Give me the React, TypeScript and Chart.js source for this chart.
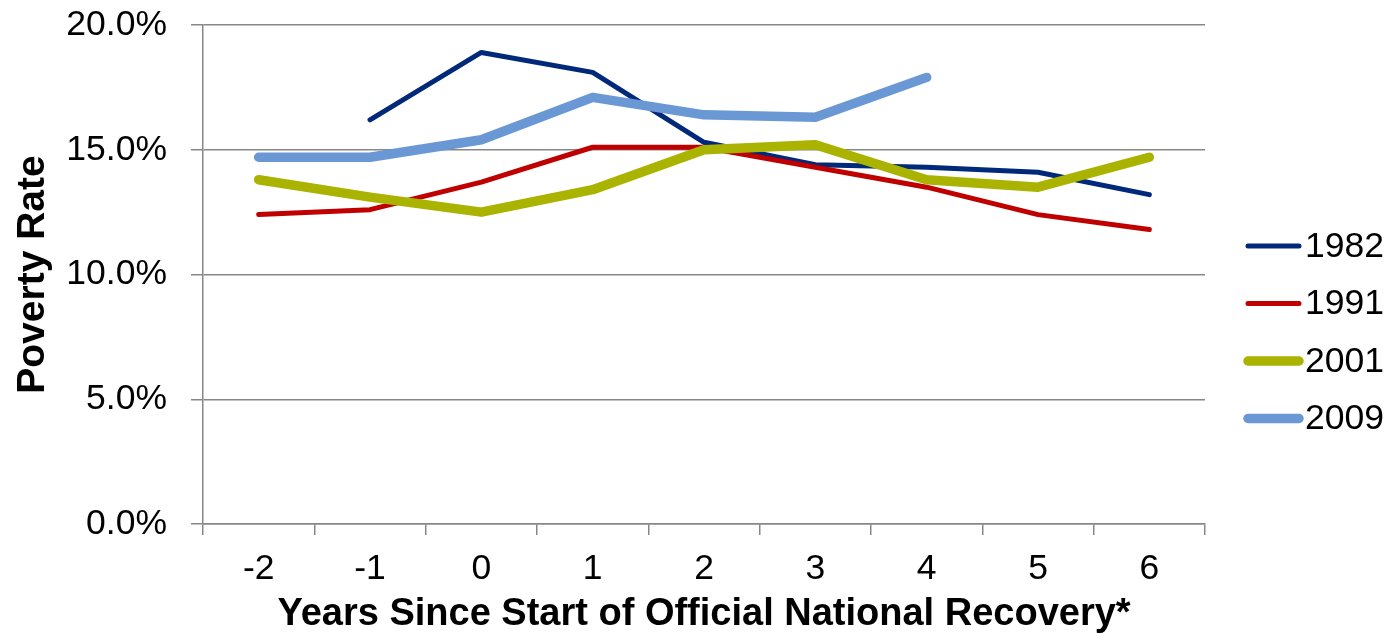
import React, { useEffect, useRef } from "react";
import { Chart, registerables } from "chart.js";

Chart.register(...registerables);

const categories = ["-2", "-1", "0", "1", "2", "3", "4", "5", "6"];
const seriesNames = ["1982", "1991", "2001", "2009"];
const values1982 = [null, 16.2, 18.9, 18.1, 15.3, 14.4, 14.3, 14.1, 13.2];
const values1991 = [12.4, 12.6, 13.7, 15.1, 15.1, 14.3, 13.5, 12.4, 11.8];
const values2001 = [13.8, 13.1, 12.5, 13.4, 15.0, 15.2, 13.8, 13.5, 14.7];
const values2009 = [14.7, 14.7, 15.4, 17.1, 16.4, 16.3, 17.9, null, null];
const yTicks = [0, 5, 10, 15, 20];

const colors = ["#00297A", "#C00000", "#AAB400", "#6A98D4"];
const widths = [5, 5, 9.5, 9.5];
const FONT = '"Liberation Sans", Arial, sans-serif';

const legendPlugin = {
  id: "customLegend",
  afterDraw(chart: any) {
    const { ctx, chartArea } = chart;
    ctx.save();
    chart.data.datasets.forEach((ds: any, i: number) => {
      const y = chartArea.top + 221 + i * 57.5;
      const x1 = chartArea.right + 43;
      const x2 = chartArea.right + 94;
      ctx.beginPath();
      ctx.strokeStyle = ds.borderColor;
      ctx.lineWidth = ds.borderWidth;
      ctx.lineCap = "round";
      ctx.moveTo(x1, y);
      ctx.lineTo(x2, y);
      ctx.stroke();
      ctx.fillStyle = "#000";
      ctx.font = `35.5px ${FONT}`;
      ctx.textAlign = "left";
      ctx.textBaseline = "middle";
      ctx.fillText(ds.label, chartArea.right + 100, y + 1);
    });
    ctx.restore();
  },
};

export default function App() {
  const ref = useRef<HTMLCanvasElement>(null);
  useEffect(() => {
    if (!ref.current) return;
    const allValues = [values1982, values1991, values2001, values2009];
    const chart = new Chart(ref.current, {
      type: "line",
      data: {
        labels: categories,
        datasets: seriesNames.map((name, i) => ({
          label: name,
          data: allValues[i],
          borderColor: colors[i],
          backgroundColor: colors[i],
          borderWidth: widths[i],
          pointRadius: 0,
          pointHoverRadius: 0,
          tension: 0,
          fill: false,
          spanGaps: false,
          borderCapStyle: "round",
          borderJoinStyle: "round",
          order: 3 - i,
        })),
      },
      options: {
        responsive: false,
        animation: false,
        events: [],
        layout: { padding: { left: 0, top: 25, right: 193, bottom: 0 } },
        plugins: {
          legend: { display: false },
          tooltip: { enabled: false },
        },
        scales: {
          x: {
            type: "category",
            offset: true,
            grid: {
              offset: true,
              drawOnChartArea: false,
              drawTicks: true,
              tickLength: 11,
              color: "#878787",
              lineWidth: 1.5,
            },
            border: { display: true, color: "#878787", width: 1.5 },
            ticks: {
              color: "#000",
              font: { family: FONT, size: 35.5 },
              padding: 13,
              maxRotation: 0,
              autoSkip: false,
            },
            title: {
              display: true,
              text: "Years Since Start of Official National Recovery*",
              color: "#000",
              font: { family: FONT, size: 38, weight: "bold" },
              padding: { top: 0, bottom: 4 },
            },
            afterFit(scale: any) {
              scale.height = 117;
              scale.paddingLeft = 0;
              scale.paddingRight = 0;
            },
          },
          y: {
            min: 0,
            max: 20,
            afterBuildTicks(scale: any) {
              scale.ticks = yTicks.map((v) => ({ value: v }));
            },
            grid: {
              color: "#878787",
              lineWidth: 1.5,
              drawTicks: true,
              tickLength: 12,
            },
            border: { display: true, color: "#878787", width: 1.5 },
            ticks: {
              color: "#000",
              font: { family: FONT, size: 35.5 },
              padding: 24,
              callback: (v: any) => Number(v).toFixed(1) + "%",
            },
            title: {
              display: true,
              text: "Poverty Rate",
              color: "#000",
              font: { family: FONT, size: 39, weight: "bold" },
              padding: { top: 10, bottom: 0 },
            },
            afterFit(scale: any) {
              scale.width = 203;
              scale.paddingTop = 0;
              scale.paddingBottom = 0;
            },
          },
        },
      },
      plugins: [legendPlugin],
    } as any);
    return () => chart.destroy();
  }, []);
  return (
    <div style={{ position: "fixed", left: 0, top: 0, width: 1398, height: 641, background: "#fff" }}>
      <canvas ref={ref} width={1398} height={641} style={{ display: "block" }} />
    </div>
  );
}
